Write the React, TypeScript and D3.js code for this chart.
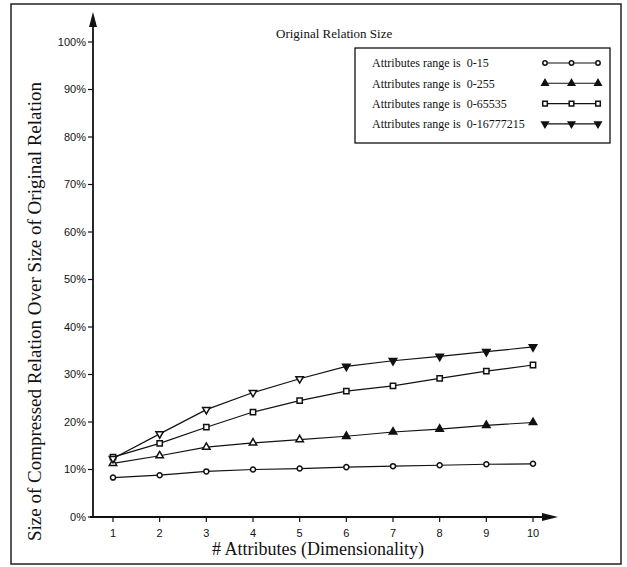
import React from "react";
import * as d3 from "d3";

// values (percent of original relation size)
const dims = [1, 2, 3, 4, 5, 6, 7, 8, 9, 10];
const range15 = [8.3, 8.8, 9.6, 10.0, 10.2, 10.5, 10.7, 10.9, 11.1, 11.2];
const range255 = [11.3, 12.9, 14.7, 15.6, 16.3, 17.0, 17.9, 18.5, 19.3, 19.9];
const range65535 = [12.6, 15.5, 18.9, 22.1, 24.5, 26.5, 27.6, 29.2, 30.7, 32.0];
const range16777215 = [12.3, 17.5, 22.6, 26.2, 29.1, 31.7, 32.9, 33.8, 34.8, 35.8];
const yTicks = [0, 10, 20, 30, 40, 50, 60, 70, 80, 90, 100];
const seriesNames = [
  "Attributes range is  0-15",
  "Attributes range is  0-255",
  "Attributes range is  0-65535",
  "Attributes range is  0-16777215",
];

const serif = "'Liberation Serif', 'Times New Roman', serif";
const sans = "'Liberation Sans', Arial, sans-serif";

type Kind = "circle" | "up" | "square" | "down";
const kinds: Kind[] = ["circle", "up", "square", "down"];
const allSeries = [range15, range255, range65535, range16777215];

function Marker({ kind, x, y, filled, scale = 1 }: { kind: Kind; x: number; y: number; filled: boolean; scale?: number }) {
  const sym =
    kind === "circle" ? d3.symbolCircle : kind === "square" ? d3.symbolSquare : d3.symbolTriangle;
  const size = (kind === "circle" ? 20 : kind === "square" ? 28 : 24) * scale;
  const path = d3.symbol().type(sym).size(size)() || "";
  const rot = kind === "down" ? 180 : 0;
  const fill = kind === "circle" || kind === "square" ? "#fff" : filled ? "#111" : "#fff";
  return (
    <path
      d={path}
      transform={`translate(${x},${y}) rotate(${rot})`}
      fill={fill}
      stroke="#111"
      strokeWidth={1.5}
    />
  );
}

export default function App() {
  const x = d3.scaleLinear().domain([1, 10]).range([113, 533]);
  const y = d3.scaleLinear().domain([0, 100]).range([517, 42]);
  const line = d3
    .line<number>()
    .x((_, i) => x(dims[i]))
    .y((d) => y(d));

  const axisX = 93;
  const axisY = y(0);

  return (
    <svg
      width={627}
      height={567}
      style={{ position: "absolute", left: 0, top: 0, background: "#fff" }}
    >
      {/* scan frame */}
      <rect x={11} y={4} width={610} height={560} fill="none" stroke="#222" strokeWidth={1.5} />

      {/* title */}
      <text x={276} y={38} fontFamily={serif} fontSize={13} fill="#111">
        Original Relation Size
      </text>

      {/* y axis with arrow */}
      <line x1={axisX} y1={axisY + 1} x2={axisX} y2={24} stroke="#111" strokeWidth={1.8} />
      <path d={`M${axisX},12 L${axisX - 4},27 L${axisX + 4},27 Z`} fill="#111" />
      {yTicks.map((t) => (
        <g key={t}>
          <line x1={axisX - 5} x2={axisX} y1={y(t)} y2={y(t)} stroke="#111" strokeWidth={1.2} />
          <text
            x={axisX - 7}
            y={y(t)}
            dy="0.35em"
            textAnchor="end"
            fontFamily={sans}
            fontSize={11}
            fill="#111"
          >
            {t}%
          </text>
        </g>
      ))}

      {/* x axis with arrow */}
      <line x1={axisX - 3} y1={axisY} x2={545} y2={axisY} stroke="#111" strokeWidth={1.8} />
      <path d={`M558,${axisY} L542,${axisY - 4} L542,${axisY + 4} Z`} fill="#111" />
      {dims.map((d) => (
        <g key={d}>
          <line x1={x(d)} x2={x(d)} y1={axisY} y2={axisY + 5} stroke="#111" strokeWidth={1.2} />
          <text
            x={x(d)}
            y={axisY + 20}
            textAnchor="middle"
            fontFamily={sans}
            fontSize={11}
            fill="#111"
          >
            {d}
          </text>
        </g>
      ))}

      {/* axis titles */}
      <text x={318} y={555} textAnchor="middle" fontFamily={serif} fontSize={18} fill="#111">
        # Attributes (Dimensionality)
      </text>
      <text
        transform="translate(41, 541) rotate(-90)"
        textAnchor="start"
        fontFamily={serif}
        fontSize={19}
        fill="#111"
      >
        Size of Compressed Relation Over Size of Original Relation
      </text>

      {/* series */}
      {allSeries.map((vals, si) => (
        <g key={si}>
          <path d={line(vals) || ""} fill="none" stroke="#111" strokeWidth={1.2} />
          {vals.map((v, i) => (
            <Marker key={i} kind={kinds[si]} x={x(dims[i])} y={y(v)} filled={i >= 5} />
          ))}
        </g>
      ))}

      {/* legend */}
      <rect x={355} y={48} width={255} height={95} fill="#fff" stroke="#111" strokeWidth={1.3} />
      {seriesNames.map((name, si) => {
        const ry = 63 + si * 20.3;
        return (
          <g key={name}>
            <text
              x={372}
              y={ry}
              dy="0.35em"
              fontFamily={serif}
              fontSize={12}
              fill="#111"
              style={{ whiteSpace: "pre" }}
            >
              {name}
            </text>
            <line x1={545} x2={598} y1={ry} y2={ry} stroke="#111" strokeWidth={1.1} />
            {[545, 571.5, 598].map((mx) => (
              <Marker key={mx} kind={kinds[si]} x={mx} y={ry} filled={true} scale={0.75} />
            ))}
          </g>
        );
      })}
    </svg>
  );
}
